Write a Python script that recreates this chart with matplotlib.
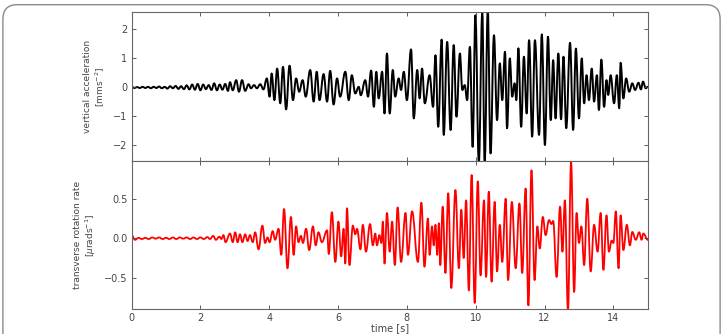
import matplotlib
matplotlib.use("Agg")
import matplotlib.pyplot as plt
from matplotlib.patches import FancyBboxPatch, PathPatch
from matplotlib.path import Path

# vertical acceleration: times [s] and values [mm/s^2] of the turning points
acc_t = [0.00, 0.08, 0.16, 0.24, 0.32, 0.40, 0.48, 0.56, 0.64, 0.72, 0.80, 0.88,
         0.96, 1.04, 1.12, 1.20, 1.28, 1.36, 1.44, 1.52, 1.60, 1.68, 1.76, 1.84,
         1.92, 2.00, 2.08, 2.16, 2.24, 2.32, 2.40, 2.48, 2.56, 2.64, 2.72, 2.80,
         2.86, 2.94, 3.04, 3.12, 3.21, 3.30, 3.40, 3.47, 3.56, 3.64, 3.74, 3.83,
         3.93, 4.01, 4.07, 4.15, 4.23, 4.32, 4.40, 4.49, 4.59, 4.69, 4.78, 4.87,
         4.97, 5.06, 5.19, 5.29, 5.38, 5.46, 5.58, 5.68, 5.77, 5.87, 5.97, 6.06,
         6.21, 6.31, 6.40, 6.50, 6.60, 6.66, 6.79, 6.87, 6.96, 7.04, 7.11, 7.18,
         7.28, 7.35, 7.42, 7.50, 7.59, 7.66, 7.76, 7.83, 7.91, 8.00, 8.12, 8.20,
         8.30, 8.37, 8.44, 8.52, 8.66, 8.76, 8.83, 8.91, 9.01, 9.07, 9.17, 9.27,
         9.36, 9.44, 9.54, 9.61, 9.68, 9.75, 9.83, 9.91, 9.99, 10.09, 10.19, 10.26,
         10.35, 10.43, 10.53, 10.62, 10.70, 10.77, 10.85, 10.91, 10.99, 11.06, 11.13, 11.18,
         11.24, 11.32, 11.40, 11.48, 11.55, 11.64, 11.72, 11.84, 11.92, 12.01, 12.10, 12.18,
         12.25, 12.32, 12.40, 12.48, 12.55, 12.63, 12.74, 12.83, 12.91, 13.00, 13.08, 13.15,
         13.22, 13.29, 13.37, 13.44, 13.52, 13.58, 13.65, 13.73, 13.80, 13.85, 13.92, 14.02,
         14.10, 14.17, 14.21, 14.29, 14.37, 14.46, 14.55, 14.63, 14.73, 14.80, 14.86, 14.94,
         15.00]
acc_v = [0.03, -0.02, 0.01, -0.02, 0.02, -0.02, 0.02, -0.03, 0.02, -0.02, 0.03, -0.03,
         0.02, -0.04, 0.04, -0.03, 0.05, -0.05, 0.04, -0.06, 0.07, -0.07, 0.10, -0.08,
         0.12, -0.10, 0.10, -0.06, 0.08, -0.09, 0.14, -0.10, 0.10, -0.08, 0.12, -0.12,
         0.18, -0.10, 0.25, -0.15, 0.25, -0.12, 0.11, -0.03, 0.08, -0.03, 0.11, -0.07,
         0.31, -0.32, 0.48, -0.44, 0.65, -0.55, 0.71, -0.76, 0.75, -0.44, 0.31, -0.15,
         0.25, -0.32, 0.60, -0.49, 0.54, -0.44, 0.46, -0.49, 0.57, -0.59, 0.31, -0.32,
         0.54, -0.44, 0.42, -0.21, 0.02, -0.27, 0.25, -0.32, 0.58, -0.67, 0.54, -0.38,
         0.54, -0.90, 1.17, -0.90, 0.60, -0.32, 0.31, -0.09, 0.54, -0.44, 1.31, -1.07,
         0.60, -0.38, 0.65, -0.55, 0.42, -0.67, 1.11, -1.36, 1.65, -1.64, 1.57, -1.47,
         1.46, -1.01, 1.17, -0.09, 0.08, -0.44, 1.40, -2.05, 2.49, -2.60, 2.60, -2.60,
         2.65, -2.28, 1.80, -1.13, 0.83, -0.44, 1.23, -1.41, 1.00, -0.32, 0.14, -0.44,
         1.35, -1.36, 1.06, -0.90, 1.63, -1.70, 1.63, -1.64, 1.83, -1.99, 1.75, -1.13,
         0.94, -1.07, 1.17, -1.10, 1.06, -1.41, 1.54, -1.47, 1.34, -1.07, 1.00, -0.55,
         0.42, -0.44, 0.65, -0.49, 0.42, -0.78, 0.96, -0.67, 0.25, -0.26, 0.42, -0.55,
         0.42, -0.72, 0.85, -0.38, 0.31, -0.15, 0.14, -0.09, 0.16, -0.07, 0.20, -0.03,
         0.02]

# transverse rotation rate: times [s] and values [micro rad/s] of the turning points
rot_t = [0.00, 0.10, 0.20, 0.30, 0.40, 0.50, 0.60, 0.70, 0.80, 0.90, 1.00, 1.10,
         1.20, 1.30, 1.40, 1.50, 1.60, 1.70, 1.80, 1.90, 2.00, 2.10, 2.20, 2.28,
         2.37, 2.45, 2.55, 2.61, 2.67, 2.73, 2.86, 2.94, 3.01, 3.08, 3.15, 3.22,
         3.30, 3.37, 3.44, 3.52, 3.59, 3.69, 3.80, 3.88, 3.95, 4.01, 4.10, 4.17,
         4.27, 4.35, 4.43, 4.53, 4.63, 4.71, 4.78, 4.85, 4.92, 4.98, 5.07, 5.16,
         5.27, 5.35, 5.43, 5.53, 5.68, 5.73, 5.82, 5.92, 6.01, 6.09, 6.16, 6.21,
         6.26, 6.33, 6.43, 6.50, 6.55, 6.65, 6.72, 6.81, 6.93, 7.01, 7.08, 7.13,
         7.20, 7.26, 7.30, 7.35, 7.42, 7.50, 7.57, 7.65, 7.73, 7.83, 7.96, 8.03,
         8.15, 8.32, 8.42, 8.51, 8.61, 8.66, 8.73, 8.78, 8.83, 8.88, 8.93, 8.97,
         9.04, 9.12, 9.20, 9.29, 9.41, 9.51, 9.58, 9.65, 9.72, 9.80, 9.88, 9.97,
         10.06, 10.14, 10.24, 10.30, 10.38, 10.46, 10.55, 10.62, 10.70, 10.77, 10.87, 10.94,
         11.05, 11.16, 11.27, 11.35, 11.45, 11.53, 11.62, 11.71, 11.79, 11.86, 11.95, 12.03,
         12.13, 12.20, 12.25, 12.35, 12.45, 12.52, 12.59, 12.68, 12.77, 12.86, 12.93, 13.00,
         13.07, 13.15, 13.24, 13.34, 13.44, 13.54, 13.63, 13.71, 13.80, 13.87, 13.95, 14.00,
         14.07, 14.15, 14.21, 14.29, 14.39, 14.48, 14.55, 14.65, 14.75, 14.82, 14.87, 15.00]
rot_v = [0.04, -0.02, 0.005, -0.01, 0.005, -0.01, 0.01, -0.005, 0.01, -0.01, 0.005, -0.01,
         0.01, -0.01, 0.01, -0.005, 0.01, -0.01, 0.01, -0.01, 0.01, -0.01, 0.015, -0.01,
         0.03, -0.02, 0.02, -0.01, 0.04, -0.05, 0.06, -0.05, 0.075, -0.05, 0.05, -0.05,
         0.05, -0.035, 0.04, -0.05, 0.075, -0.14, 0.16, -0.06, 0.01, -0.05, 0.09, -0.02,
         0.12, -0.21, 0.37, -0.38, 0.27, -0.21, 0.15, -0.05, 0.03, -0.06, 0.12, -0.15,
         0.15, -0.09, 0.075, -0.05, 0.10, -0.20, 0.33, -0.30, 0.21, -0.23, 0.12, -0.32,
         0.38, -0.34, 0.16, 0.05, 0.12, -0.14, 0.17, -0.17, 0.18, -0.09, 0.06, -0.09,
         0.04, -0.06, 0.21, -0.32, 0.32, -0.17, 0.21, -0.34, 0.39, -0.30, 0.32, -0.21,
         0.34, -0.30, 0.45, -0.36, 0.25, -0.21, 0.15, -0.09, 0.17, -0.21, 0.19, -0.34,
         0.40, -0.44, 0.57, -0.63, 0.61, -0.38, 0.36, -0.25, 0.48, -0.66, 0.80, -0.82,
         0.72, -0.47, 0.48, -0.49, 0.59, -0.55, 0.46, -0.42, 0.17, -0.30, 0.50, -0.53,
         0.46, -0.38, 0.44, -0.44, 0.63, -0.85, 0.86, -0.53, 0.15, -0.13, 0.27, 0.04,
         0.23, 0.18, 0.22, -0.49, 0.40, -0.17, 0.48, -0.92, 0.97, -0.68, 0.32, -0.06,
         0.15, -0.34, 0.50, -0.42, 0.17, -0.17, 0.32, -0.40, 0.29, -0.17, -0.03, -0.06,
         0.34, -0.38, 0.29, -0.15, 0.17, -0.09, 0.08, -0.02, 0.075, -0.02, 0.06, -0.02]

acc_ticks = [-2, -1, 0, 1, 2]
rot_ticks = [-0.5, 0.0, 0.5]
time_ticks = [0, 2, 4, 6, 8, 10, 12, 14]


def wave(ax, t, v, **kw):
    # smooth curve through the turning points (flat tangent at each one)
    verts = [(t[0], v[0])]
    codes = [Path.MOVETO]
    for i in range(1, len(t)):
        d = (t[i] - t[i - 1]) * 0.4
        verts += [(t[i - 1] + d, v[i - 1]), (t[i] - d, v[i]), (t[i], v[i])]
        codes += [Path.CURVE4] * 3
    ax.add_patch(PathPatch(Path(verts, codes), fill=False, capstyle="round",
                           joinstyle="round", **kw))


fig = plt.figure(figsize=(7.23, 3.34), dpi=100)

# rounded frame around the whole figure
frame = FancyBboxPatch((0.004, -0.05), 0.992, 1.036, boxstyle="round,pad=0,rounding_size=0.02",
                       transform=fig.transFigure, fill=False, edgecolor="#8a8a8a", linewidth=1.0,
                       mutation_aspect=723 / 334)
fig.patches.append(frame)

ax1 = fig.add_axes([0.182, 0.518, 0.714, 0.445])
ax2 = fig.add_axes([0.182, 0.075, 0.714, 0.443], sharex=ax1)

wave(ax1, acc_t, acc_v, edgecolor="black", linewidth=1.4)
wave(ax2, rot_t, rot_v, edgecolor="red", linewidth=1.3)

ax1.set_ylim(-2.54, 2.59)
ax2.set_ylim(-0.895, 0.978)
ax1.set_xlim(0, 15)
ax1.set_yticks(acc_ticks)
ax2.set_yticks(rot_ticks)
ax2.set_xticks(time_ticks)

for ax in (ax1, ax2):
    ax.tick_params(direction="in", length=3, width=0.6, top=True, right=True,
                   labelsize=7, colors="#444444", pad=3)
    for s in ax.spines.values():
        s.set_color("#666666")
        s.set_linewidth(0.8)
ax1.tick_params(labelbottom=False)

ax1.set_ylabel("vertical acceleration\n[mms$^{-2}$]", fontsize=6.5, color="#444444", labelpad=4)
ax2.set_ylabel("transverse rotation rate\n[$\\mu$rads$^{-1}$]", fontsize=6.5, color="#444444", labelpad=4)
ax2.set_xlabel("time [s]", fontsize=7, color="#444444", labelpad=0)

fig.savefig("out.png", dpi=100)
